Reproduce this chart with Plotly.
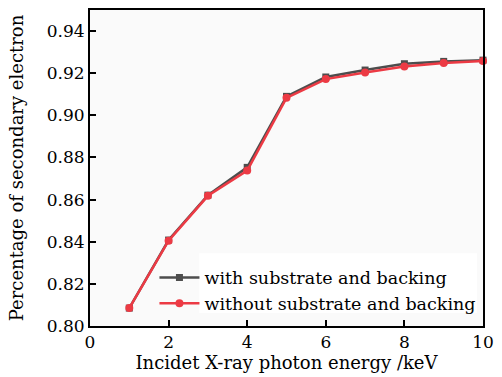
import plotly.graph_objects as go

energy = [1, 2, 3, 4, 5, 6, 7, 8, 9, 10]
with_sb = [0.8085, 0.8408, 0.8621, 0.8753, 0.9090, 0.9182, 0.9215, 0.9245, 0.9256, 0.9262]
without_sb = [0.8085, 0.8405, 0.8618, 0.8738, 0.9083, 0.9172, 0.9203, 0.9232, 0.9248, 0.9258]

font_family = "DejaVu Serif"

fig = go.Figure()
fig.add_trace(go.Scatter(
    x=energy, y=with_sb, mode="lines+markers", name="with substrate and backing",
    line=dict(color="#4d4d4d", width=2.5),
    marker=dict(symbol="square", size=7, color="#4d4d4d"),
    cliponaxis=False,
))
fig.add_trace(go.Scatter(
    x=energy, y=without_sb, mode="lines+markers", name="without substrate and backing",
    line=dict(color="#ec3a44", width=2.5),
    marker=dict(symbol="circle", size=8, color="#ec3a44"),
    cliponaxis=False,
))

# white patch behind the legend text (as in the reference)
fig.add_shape(type="rect", xref="paper", yref="paper",
              x0=0.278, x1=0.985, y0=0.041, y1=0.23,
              fillcolor="white", line=dict(width=0), layer="below")

fig.update_layout(
    width=502, height=377,
    margin=dict(l=90, r=16, t=8, b=51),
    paper_bgcolor="white",
    plot_bgcolor="#fafafa",
    font=dict(family=font_family, size=17, color="black"),
    showlegend=True,
    legend=dict(
        x=0.164, y=0.014, xanchor="left", yanchor="bottom",
        bgcolor="rgba(0,0,0,0)", borderwidth=0,
        font=dict(family=font_family, size=17.5, color="black"),
        tracegroupgap=0, itemwidth=40,
    ),
)
fig.update_xaxes(
    range=[0, 10], tickvals=[0, 2, 4, 6, 8, 10],
    showgrid=False, zeroline=False,
    showline=True, linecolor="black", linewidth=2, mirror=True,
    ticks="inside", ticklen=6, tickwidth=2, tickcolor="black",
    title=dict(text="Incidet X-ray photon energy /keV", font=dict(size=18), standoff=4),
    tickfont=dict(size=17),
)
fig.update_yaxes(
    range=[0.80, 0.95], tickvals=[0.80, 0.82, 0.84, 0.86, 0.88, 0.90, 0.92, 0.94],
    tickformat=".2f",
    showgrid=False, zeroline=False,
    showline=True, linecolor="black", linewidth=2, mirror=True,
    ticks="inside", ticklen=6, tickwidth=2, tickcolor="black",
    title=dict(text="Percentage of secondary electron", font=dict(size=18), standoff=18),
    tickfont=dict(size=17),
)

fig.write_html("out.html")
